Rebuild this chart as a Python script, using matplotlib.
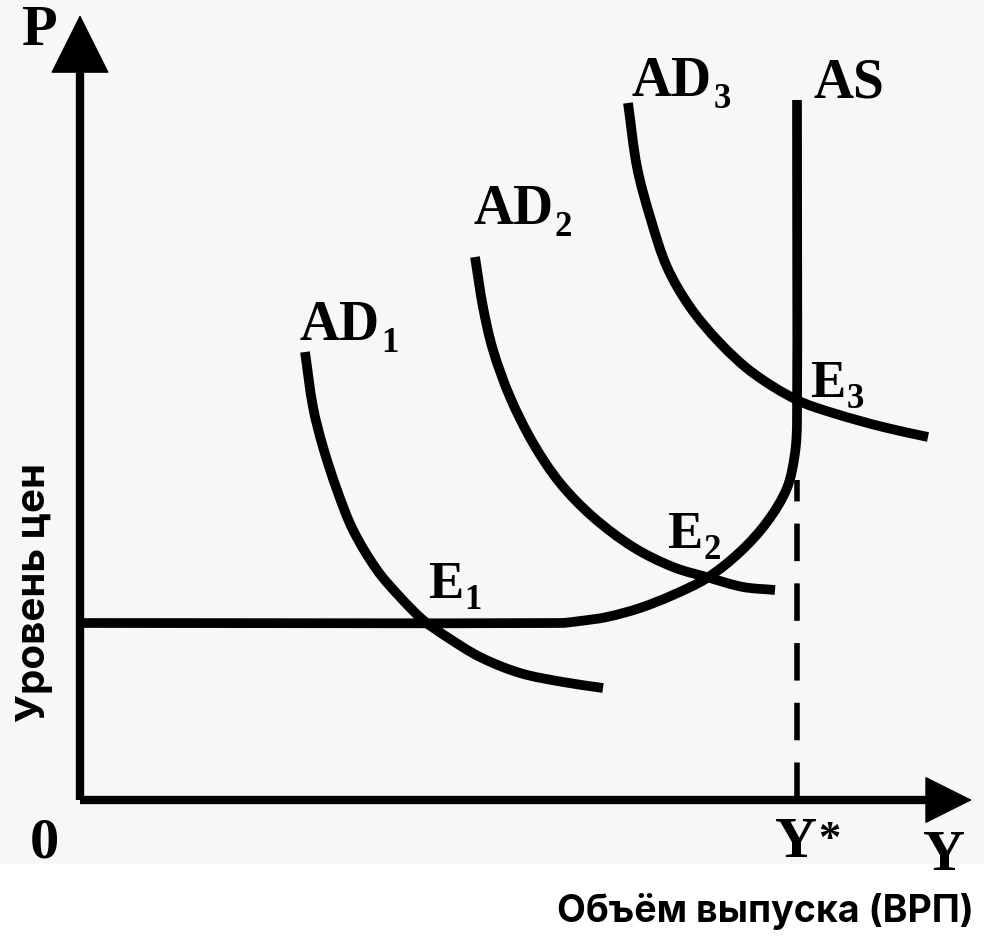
import numpy as np
import matplotlib
matplotlib.use("Agg")
import matplotlib.pyplot as plt
from matplotlib.path import Path
from matplotlib.patches import PathPatch

# --- values (Y along x, price level along y) ---
ad1_y = [2.25, 2.33, 2.43, 2.57, 2.73, 2.97, 3.20, 3.43, 3.67, 4.00, 4.40, 4.83, 5.23]
ad1_p = [4.48, 3.93, 3.53, 3.10, 2.70, 2.30, 2.03, 1.80, 1.63, 1.43, 1.27, 1.18, 1.12]

ad2_y = [3.95, 4.03, 4.13, 4.30, 4.53, 4.80, 5.13, 5.53, 5.93, 6.30, 6.63, 6.95]
ad2_p = [5.43, 4.93, 4.50, 4.03, 3.57, 3.17, 2.83, 2.53, 2.33, 2.22, 2.13, 2.10]

ad3_y = [5.48, 5.57, 5.71, 5.87, 6.10, 6.40, 6.73, 7.17, 7.53, 8.03, 8.48]
ad3_p = [6.97, 6.33, 5.80, 5.33, 4.93, 4.57, 4.27, 4.00, 3.87, 3.73, 3.63]

as_y = [0.00, 4.80, 5.00, 5.27, 5.60, 5.93, 6.27, 6.60, 6.87, 7.07, 7.15, 7.17, 7.17]
as_p = [1.77, 1.77, 1.79, 1.83, 1.92, 2.05, 2.22, 2.48, 2.78, 3.12, 3.47, 3.80, 7.00]

y_star = 7.17
dash_top = 3.2
x_tip = 8.92
p_tip = 7.85

SERIF = "Liberation Serif"
SANS = "Inter"

plt.rcParams["lines.scale_dashes"] = False


def smooth_path(xs, ys):
    """Bezier path through the read points (tangent from neighbours)."""
    pts = np.column_stack([xs, ys]).astype(float)
    n = len(pts)
    tan = np.zeros_like(pts)
    for i in range(n):
        a = pts[max(i - 1, 0)]
        b = pts[min(i + 1, n - 1)]
        d = b - a
        tan[i] = d / np.hypot(*d)
    verts = [pts[0]]
    codes = [Path.MOVETO]
    for i in range(n - 1):
        seg = np.hypot(*(pts[i + 1] - pts[i])) / 3
        verts += [pts[i] + tan[i] * seg, pts[i + 1] - tan[i + 1] * seg, pts[i + 1]]
        codes += [Path.CURVE4] * 3
    return Path(verts, codes)


fig = plt.figure(figsize=(9.84, 9.41), dpi=100, facecolor="#f7f7f7")
ax = fig.add_axes([0, 0, 1, 1])
ax.set_xlim(-0.80, 9.04)
ax.set_ylim(-1.41, 8.00)
ax.set_facecolor("#f7f7f7")
ax.axis("off")
ax.axhspan(-1.41, -0.64, color="white", zorder=0)

# axes with arrows
ax.plot([0, x_tip - 0.3], [0, 0], color="black", lw=6, solid_capstyle="butt")
ax.plot([0, 0], [0, p_tip - 0.4], color="black", lw=6, solid_capstyle="butt")
ax.annotate("", xy=(x_tip, 0), xytext=(x_tip - 0.5, 0),
            arrowprops=dict(arrowstyle="-|>,head_length=32,head_width=16",
                            mutation_scale=1, lw=1, color="black",
                            shrinkA=0, shrinkB=0))
ax.annotate("", xy=(0, p_tip), xytext=(0, p_tip - 0.6),
            arrowprops=dict(arrowstyle="-|>,head_length=40,head_width=20",
                            mutation_scale=1, lw=1, color="black",
                            shrinkA=0, shrinkB=0))

# Y* guide
ax.plot([y_star, y_star], [0, dash_top], color="black", lw=4, dashes=(27, 16))

# curves
for xs, ys in [(as_y, as_p), (ad1_y, ad1_p), (ad2_y, ad2_p), (ad3_y, ad3_p)]:
    ax.add_patch(PathPatch(smooth_path(xs, ys), fill=False, edgecolor="black",
                           lw=7, capstyle="butt", joinstyle="round"))


def label(x, y, main, sub=None, size=40):
    t = ax.text(x, y, main, fontsize=size, fontweight="bold", family=SERIF,
                ha="left", va="baseline")
    if sub:
        ax.annotate(sub, xy=(1, 0), xycoords=t, xytext=(1, 0),
                    textcoords="offset points", fontsize=25, fontweight="bold",
                    family=SERIF, ha="left", va="baseline")
    return t


label(2.20, 4.60, "AD", "1")
label(3.93, 5.76, "AD", "2")
label(5.52, 7.04, "AD", "3")
label(7.34, 7.03, "AS")
label(3.48, 2.02, "E", "1", size=38)
label(5.87, 2.52, "E", "2", size=38)
label(7.30, 4.03, "E", "3", size=38)

ax.text(-0.40, 7.69, "P", fontsize=42, fontweight="bold", family=SERIF,
        ha="center", va="center")
ax.text(-0.36, -0.43, "0", fontsize=42, fontweight="bold", family=SERIF,
        ha="center", va="center")
ys_txt = ax.text(6.95, -0.57, "Y", fontsize=42, fontweight="bold", family=SERIF,
                 ha="left", va="baseline")
ax.annotate("*", xy=(1, 1), xycoords=ys_txt, xytext=(1, -2),
            textcoords="offset points", fontsize=32, fontweight="bold",
            family=SERIF, ha="left", va="top")
ax.text(8.64, -0.70, "Y", fontsize=42, fontweight="bold", family=SERIF,
        ha="center", va="baseline")

ax.text(-0.45, 2.08, "Уровень цен", fontsize=29, fontweight="bold", family=SANS,
        rotation=90, ha="center", va="center")
ax.text(6.85, -1.22, "Объём выпуска (ВРП)", fontsize=27, fontweight="bold",
        family=SANS, ha="center", va="baseline")

fig.savefig("out.png", dpi=100, facecolor=fig.get_facecolor())
